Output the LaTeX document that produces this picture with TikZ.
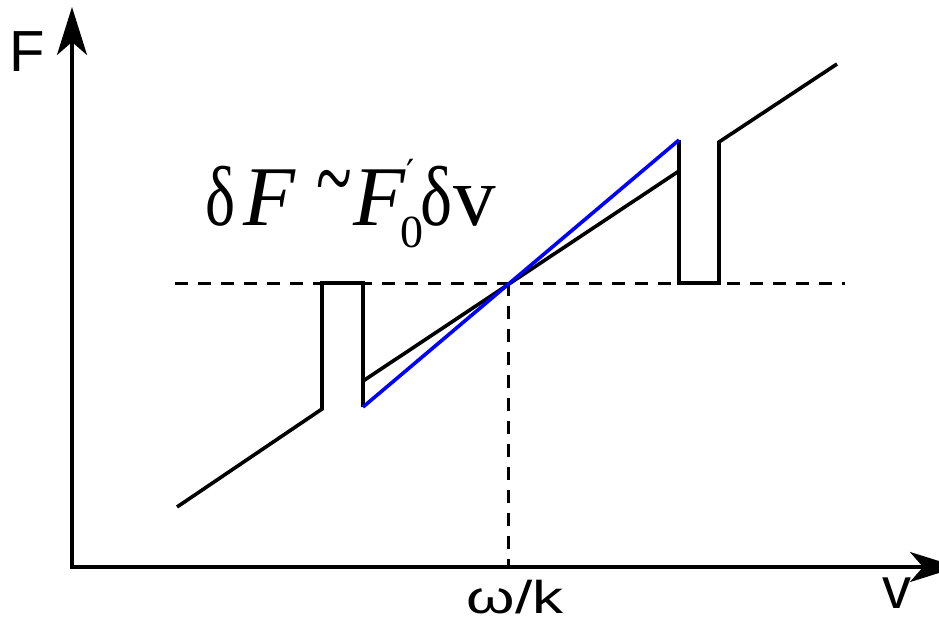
\documentclass[tikz,border=0pt]{standalone}
\usepackage{fontspec}
\setmainfont{Liberation Serif}
\newfontfamily\axisfont{Liberation Sans}
\newfontfamily\primefont{DejaVu Serif}
\usetikzlibrary{arrows.meta}
\begin{document}
\begin{tikzpicture}[x=1pt,y=-1pt,
  curve/.style={line width=3.6pt, line join=miter, line cap=butt},
  guide/.style={line width=3pt, dash pattern=on 13pt off 10pt},
  axis/.style={line width=3.6pt, -{Stealth[length=48pt,width=30pt,inset=13pt]}},
  lab/.style={inner sep=0pt, font=\axisfont\fontsize{58}{64}\selectfont}]
\clip (0,0) rectangle (939,621);
\fill[white] (0,0) rectangle (939,621);
% axes
\coordinate (Ybot) at (72,569);
\coordinate (Ytip) at (72,7);
\coordinate (Xleft) at (70.2,567);
\coordinate (Xtip) at (958,567);
\draw[axis] (Ybot) -- (Ytip);
\draw[axis] (Xleft) -- (Xtip);
% guides
\coordinate (Hl) at (175,283);
\coordinate (Hr) at (845,283);
\coordinate (C) at (508,283);
\coordinate (Cb) at (508,567);
\draw[guide] (Hl) -- (Hr);
\draw[guide] (C) -- (Cb);
% curve
\draw[curve] (177,507) -- (322,409) -- (322,283) -- (363,283) -- (363,407);
\draw[curve] (363,381) -- (679,171);
\draw[curve] (679,140) -- (679,283) -- (719,283) -- (719,142) -- (837,64);
\draw[curve, blue] (363,407) -- (679,140);
% labels
\node[lab, anchor=base] (Flab) at (27.5,71) {F};
\node[lab, anchor=base] (vlab) at (896.5,608) {v};
\node[lab, anchor=base, font=\axisfont\fontsize{46}{50}\selectfont] (wk) at (515,613) {\scalebox{1.35}[1]{ω/k}};
\node[inner sep=0pt, anchor=base west, font=\fontsize{85}{90}\selectfont] (eq) at (205,225)
  {\makebox[38pt][l]{\scalebox{0.75}[1]{δ}}%
   \makebox[75pt][l]{\textit{F}}%
   \makebox[35pt][l]{\hspace{-2pt}\raisebox{13pt}{\scalebox{1.1}[1.7]{\fontsize{60}{60}\selectfont\symbol{"7E}}}}%
   \makebox[47pt][l]{\textit{F}}%
   \makebox[20pt][l]{\rlap{\hspace{6pt}\raisebox{40pt}{\primefont\fontsize{36}{36}\selectfont ′}}\raisebox{-22pt}{\fontsize{46}{50}\selectfont 0}}%
   \makebox[33pt][l]{\scalebox{0.8}[1]{δ}}v};
\end{tikzpicture}
\end{document}
